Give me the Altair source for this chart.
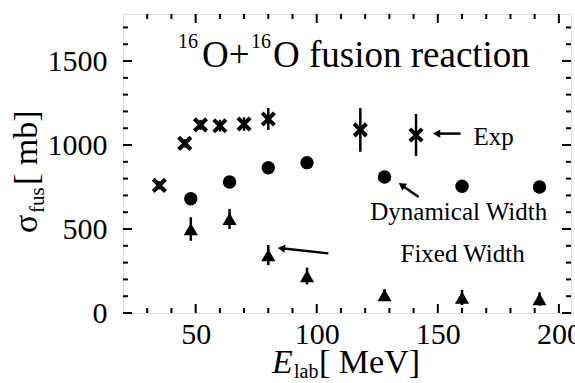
import math
import altair as alt
import pandas as pd

# Measured fusion cross sections (Exp) with vertical error bars
exp_elab = [35, 45.5, 52, 60, 70, 80, 118, 141]
exp_sigma = [760, 1010, 1120, 1115, 1125, 1155, 1090, 1060]
exp_err = [25, 25, 30, 35, 40, 65, 130, 125]

# Calculation with a dynamical width
dyn_elab = [48, 64, 80, 96, 128, 160, 192]
dyn_sigma = [680, 780, 865, 895, 810, 755, 750]

# Calculation with a fixed width
fix_elab = [48, 64, 80, 96, 128, 160, 192]
fix_sigma = [500, 560, 345, 220, 107, 92, 83]
fix_err = [70, 60, 60, 50, 35, 45, 40]

# Axis ticks
x_major = [50, 100, 150, 200]
y_major = [0, 500, 1000, 1500]
x_minor = [30, 40, 60, 70, 80, 90, 110, 120, 130, 140, 160, 170, 180, 190]
y_minor = [100, 200, 300, 400, 600, 700, 800, 900, 1100, 1200, 1300, 1400, 1600, 1700]

X_DOMAIN = [20, 205]
Y_DOMAIN = [0, 1780]
W, H = 448, 299
SERIF = "Liberation Serif"

x_scale = alt.Scale(domain=X_DOMAIN, nice=False, zero=False)
y_scale = alt.Scale(domain=Y_DOMAIN, nice=False, zero=False)
x_axis = alt.Axis(values=x_major, title=None, grid=False, domain=False, ticks=False,
                  tickSize=0, labelFont=SERIF, labelFontSize=30, labelColor="black",
                  labelPadding=6, labelFlush=False, labelOverlap=False, format="d")
y_axis = alt.Axis(values=y_major, title=None, grid=False, domain=False, ticks=False,
                  tickSize=0, labelFont=SERIF, labelFontSize=30, labelColor="black",
                  labelPadding=16, labelOverlap=False, format="d")


def X(field):
    return alt.X(field, type="quantitative", scale=x_scale, axis=x_axis)


def Y(field):
    return alt.Y(field, type="quantitative", scale=y_scale, axis=y_axis)


def px(e):
    return (e - X_DOMAIN[0]) / (X_DOMAIN[1] - X_DOMAIN[0]) * W


def py(s):
    return H - (s - Y_DOMAIN[0]) / (Y_DOMAIN[1] - Y_DOMAIN[0]) * H


exp_df = pd.DataFrame({"e": exp_elab, "s": exp_sigma, "err": exp_err})
exp_df["lo"] = exp_df["s"] - exp_df["err"]
exp_df["hi"] = exp_df["s"] + exp_df["err"]
dyn_df = pd.DataFrame({"e": dyn_elab, "s": dyn_sigma})
fix_df = pd.DataFrame({"e": fix_elab, "s": fix_sigma, "err": fix_err})
fix_df["lo"] = fix_df["s"] - fix_df["err"]
fix_df["hi"] = fix_df["s"] + fix_df["err"]

layers = []


# inward tick marks on all four sides of the frame
def ticks_x(values, length):
    df = pd.DataFrame({"v": values})
    bottom = alt.Chart(df).mark_rule(color="black", strokeWidth=2).encode(
        x=X("v"), y=alt.value(H), y2=alt.value(H - length))
    top = alt.Chart(df).mark_rule(color="black", strokeWidth=2).encode(
        x=X("v"), y=alt.value(0), y2=alt.value(length))
    return [bottom, top]


def ticks_y(values, length):
    df = pd.DataFrame({"v": values})
    left = alt.Chart(df).mark_rule(color="black", strokeWidth=2).encode(
        y=Y("v"), x=alt.value(0), x2=alt.value(length))
    right = alt.Chart(df).mark_rule(color="black", strokeWidth=2).encode(
        y=Y("v"), x=alt.value(W), x2=alt.value(W - length))
    return [left, right]


layers += ticks_x(x_major, 9) + ticks_x(x_minor, 5)
layers += ticks_y(y_major, 9) + ticks_y(y_minor, 5)

# experimental data: error bars and X markers
layers.append(alt.Chart(exp_df).mark_rule(color="black", strokeWidth=2.5).encode(
    x=X("e"), y=Y("lo"), y2="hi"))
layers.append(alt.Chart(exp_df).mark_point(
    shape="M-1,-1L1,1M-1,1L1,-1", filled=False, color="black",
    strokeWidth=4, size=150, opacity=1).encode(x=X("e"), y=Y("s")))

# dynamical width: filled circles
layers.append(alt.Chart(dyn_df).mark_point(
    shape="circle", filled=True, color="black", size=180, opacity=1).encode(
    x=X("e"), y=Y("s")))

# fixed width: triangles with error bars
layers.append(alt.Chart(fix_df).mark_rule(color="black", strokeWidth=2.5).encode(
    x=X("e"), y=Y("lo"), y2="hi"))
layers.append(alt.Chart(fix_df).mark_point(
    shape="triangle-up", filled=True, color="black", size=200, opacity=1).encode(
    x=X("e"), y=Y("s")))

# annotation arrows (tail -> head, in data units)
arrow_x0 = [159.4, 142.1, 104.8]
arrow_y0 = [1068, 691, 355]
arrow_x1 = [149.5, 135.1, 85.4]
arrow_y1 = [1068, 761, 385]
arrow_df = pd.DataFrame({"x0": arrow_x0, "y0": arrow_y0, "x1": arrow_x1, "y1": arrow_y1})
arrow_df["angle"] = [
    math.degrees(math.atan2(px(b) - px(a), -(py(d) - py(c)))) % 360
    for a, c, b, d in zip(arrow_x0, arrow_y0, arrow_x1, arrow_y1)
]
layers.append(alt.Chart(arrow_df).mark_rule(color="black", strokeWidth=2.5).encode(
    x=X("x0"), y=Y("y0"), x2="x1", y2="y1"))
layers.append(alt.Chart(arrow_df).mark_point(
    shape="triangle-up", filled=True, color="black", size=70, opacity=1).encode(
    x=X("x1"), y=Y("y1"), angle=alt.Angle("angle:Q", scale=None)))

# series labels
label_text = ["Exp", "Dynamical Width", "Fixed Width"]
label_x = [164.7, 122.1, 134.6]
label_y = [1000, 553, 305]
label_df = pd.DataFrame({"t": label_text, "x": label_x, "y": label_y})
layers.append(alt.Chart(label_df).mark_text(
    font=SERIF, fontSize=25, color="black", align="left", baseline="alphabetic").encode(
    x=X("x"), y=Y("y"), text="t:N"))


def txt(text, x, y, size, angle=0, style="normal"):
    df = pd.DataFrame({"t": [text]})
    kw = dict(font=SERIF, fontSize=size, color="black", align="left",
              baseline="alphabetic", fontStyle=style)
    if angle:
        kw["angle"] = angle
    return alt.Chart(df).mark_text(**kw).encode(
        x=alt.value(x), y=alt.value(y), text="t:N")


# title inside the frame: 16O+16O fusion reaction
layers += [
    txt("16", 55, 34, 20),
    txt("O+", 79, 53, 37),
    txt("16", 128, 34, 20),
    txt("O fusion reaction", 150, 53, 37),
]

# y-axis title: sigma_fus [ mb]
layers += [
    txt("σ", -86, 219, 34, angle=270),
    txt("fus", -79, 199, 21, angle=270),
    txt("[ mb]", -86, 171, 34, angle=270),
]

# x-axis title: E_lab [ MeV]
layers += [
    txt("E", 149, 359, 34, style="italic"),
    txt("lab", 171, 364, 20),
    txt("[ MeV]", 196, 359, 34),
]

chart = alt.layer(*layers).properties(
    width=W, height=H,
    autosize=alt.AutoSizeParams(type="none"),
    padding={"left": 123, "top": 14, "right": 4, "bottom": 70},
).configure_view(stroke="black", strokeWidth=2.5).configure(background="white")

chart.save("out.html", embed_options={"renderer": "svg", "actions": False})
